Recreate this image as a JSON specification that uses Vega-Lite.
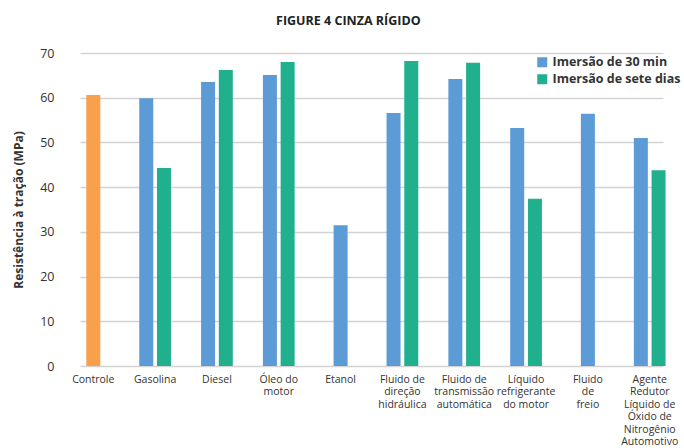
{
  "$schema": "https://vega.github.io/schema/vega-lite/v6.json",
  "autosize": "none",
  "width": 610,
  "height": 313,
  "padding": {"left": 74, "top": 53, "right": 0, "bottom": 82},
  "background": "white",
  "title": {"text": "FIGURE 4 CINZA RÍGIDO", "font": "Open Sans", "fontSize": 12.5, "fontWeight": "bold", "color": "#222222", "anchor": "middle", "frame": "bounds", "offset": 20},
  "config": {"view": {"stroke": null}, "font": "Open Sans"},
  "data": {"values": [
    {"categoria": "Controle", "serie": "Controle", "valor": 60.6},
    {"categoria": "Gasolina", "serie": "Imersão de 30 min", "valor": 59.9},
    {"categoria": "Gasolina", "serie": "Imersão de sete dias", "valor": 44.3},
    {"categoria": "Diesel", "serie": "Imersão de 30 min", "valor": 63.5},
    {"categoria": "Diesel", "serie": "Imersão de sete dias", "valor": 66.2},
    {"categoria": "Óleo do\nmotor", "serie": "Imersão de 30 min", "valor": 65.1},
    {"categoria": "Óleo do\nmotor", "serie": "Imersão de sete dias", "valor": 68.0},
    {"categoria": "Etanol", "serie": "Imersão de 30 min", "valor": 31.5},
    {"categoria": "Fluido de\ndireção\nhidráulica", "serie": "Imersão de 30 min", "valor": 56.6},
    {"categoria": "Fluido de\ndireção\nhidráulica", "serie": "Imersão de sete dias", "valor": 68.2},
    {"categoria": "Fluido de\ntransmissão\nautomática", "serie": "Imersão de 30 min", "valor": 64.2},
    {"categoria": "Fluido de\ntransmissão\nautomática", "serie": "Imersão de sete dias", "valor": 67.8},
    {"categoria": "Líquido\nrefrigerante\ndo motor", "serie": "Imersão de 30 min", "valor": 53.2},
    {"categoria": "Líquido\nrefrigerante\ndo motor", "serie": "Imersão de sete dias", "valor": 37.4},
    {"categoria": "Fluido\nde\nfreio", "serie": "Imersão de 30 min", "valor": 56.4},
    {"categoria": "Agente\nRedutor\nLíquido de\nÓxido de\nNitrogênio\nAutomotivo", "serie": "Imersão de 30 min", "valor": 51.0},
    {"categoria": "Agente\nRedutor\nLíquido de\nÓxido de\nNitrogênio\nAutomotivo", "serie": "Imersão de sete dias", "valor": 43.8}
  ]},
  "transform": [
    {"joinaggregate": [{"op": "count", "as": "n"}], "groupby": ["categoria"]},
    {"calculate": "datum.n == 1 ? 'b' : (datum.serie == 'Imersão de 30 min' ? 'a' : 'c')", "as": "slot"}
  ],
  "mark": {"type": "bar", "width": 14},
  "encoding": {
    "x": {
      "field": "categoria", "type": "nominal", "sort": null,
      "scale": {"range": [6, 589], "paddingInner": 0.57, "paddingOuter": 0},
      "axis": {"title": null, "labelAngle": 0, "ticks": false, "domain": false, "labelPadding": 8,
        "labelExpr": "split(datum.label, '\\n')", "labelFontSize": 10.5, "labelColor": "#333333",
        "labelLineHeight": 12.5, "labelFont": "Open Sans", "labelBaseline": "top"}
    },
    "xOffset": {"field": "slot", "type": "nominal", "scale": {"domain": ["a", "b", "c"], "paddingInner": 0, "paddingOuter": 0}},
    "y": {
      "field": "valor", "type": "quantitative",
      "scale": {"domain": [0, 70]},
      "axis": {"title": "Resistência à tração (MPa)", "titleFontSize": 12, "titleFontWeight": "bold", "titleColor": "#333333", "titleFont": "Open Sans",
        "values": [0, 10, 20, 30, 40, 50, 60, 70], "ticks": false, "domain": false, "labelPadding": 20,
        "labelFontSize": 12.5, "labelColor": "#333333", "labelFont": "Open Sans",
        "gridColor": "#d3d3d3", "gridWidth": 1.5, "titlePadding": 14}
    },
    "color": {
      "field": "serie", "type": "nominal",
      "scale": {"domain": ["Controle", "Imersão de 30 min", "Imersão de sete dias"], "range": ["#F9A04B", "#5C9BD5", "#20B08E"]},
      "legend": {"title": null, "values": ["Imersão de 30 min", "Imersão de sete dias"], "orient": "top-right", "offset": 3,
        "symbolType": "square", "symbolSize": 100, "symbolStrokeWidth": 0, "labelFontSize": 12.5, "labelFontWeight": "bold", "labelColor": "#333333", "labelFont": "Open Sans", "rowPadding": 4, "padding": 0}
    }
  }
}
